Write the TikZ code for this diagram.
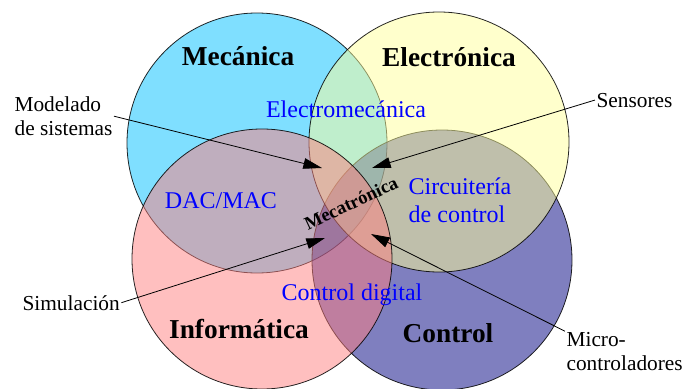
\documentclass[tikz,border=0pt]{standalone}
\usepackage{fontspec}
\setmainfont{Liberation Serif}
\usetikzlibrary{arrows.meta}
\definecolor{mecblue}{HTML}{00BFFF}
\definecolor{elecyellow}{HTML}{FFFF99}
\definecolor{infpink}{HTML}{FF7F7F}
\definecolor{ctrlnavy}{HTML}{000080}
\begin{document}
\begin{tikzpicture}
        [x=0.75pt, y=-0.75pt,
        area/.style={circle, minimum size=195pt, inner sep=0pt, draw=black, line width=0.6pt, fill opacity=0.5, draw opacity=0.85},
        field/.style={anchor=base, font=\fontsize{20.5}{24}\selectfont\bfseries},
        joint/.style={anchor=base, text=blue, font=\fontsize{18}{21}\selectfont},
        tag/.style={anchor=base west, align=left, inner sep=1pt, font=\fontsize{16}{17.3}\selectfont},
        pointer/.style={line width=0.6pt, -{Triangle[length=14pt, width=8pt]}},
        ]
        \useasboundingbox (0,0) rectangle (686,389);
        % the four areas
        \node[area, fill=mecblue] (mec) at (257,143) {};
        \node[area, fill=ctrlnavy] (ctrl) at (442,260) {};
        \node[area, fill=elecyellow] (elec) at (439,142) {};
        \node[area, fill=infpink] (inf) at (262,259) {};
        % names
        \node[field] (mectxt) at (238,65) {Mecánica};
        \node[field] (electxt) at (449,66) {Electrónica};
        \node[field] (inftxt) at (239,338) {Informática};
        \node[field] (ctrltxt) at (448,342) {Control};
        % overlaps
        \node[joint] (elmec) at (346,117) {Electromecánica};
        \node[joint] (dacmac) at (221,208) {DAC/MAC};
        \node[joint, anchor=base west, align=left] (circ) at (404,222) {Circuitería\\de control};
        \node[joint] (ctrldig) at (352,300) {Control digital};
        \node[rotate=25, font=\fontsize{14}{16}\selectfont\bfseries] (mecatr) at (351,203) {Mecatrónica};
        % side labels
        \node[tag] (model) at (13,135) {Modelado\\de sistemas};
        \node[tag] (sensor) at (595,107) {Sensores};
        \node[tag] (sim) at (21,310) {Simulación};
        \node[tag] (micro) at (565,370) {Micro-\\controladores};
        \coordinate (modeltip) at (322,168);
        \coordinate (sensortip) at (372,168);
        \coordinate (simtip) at (325,238);
        \coordinate (microtip) at (371,234);
        \draw[pointer] (model.east) -- (modeltip);
        \draw[pointer] (sensor.west) -- (sensortip);
        \draw[pointer] (sim.east) -- (simtip);
        \draw[pointer] (micro.north west) -- (microtip);
        \end{tikzpicture}
\end{document}
